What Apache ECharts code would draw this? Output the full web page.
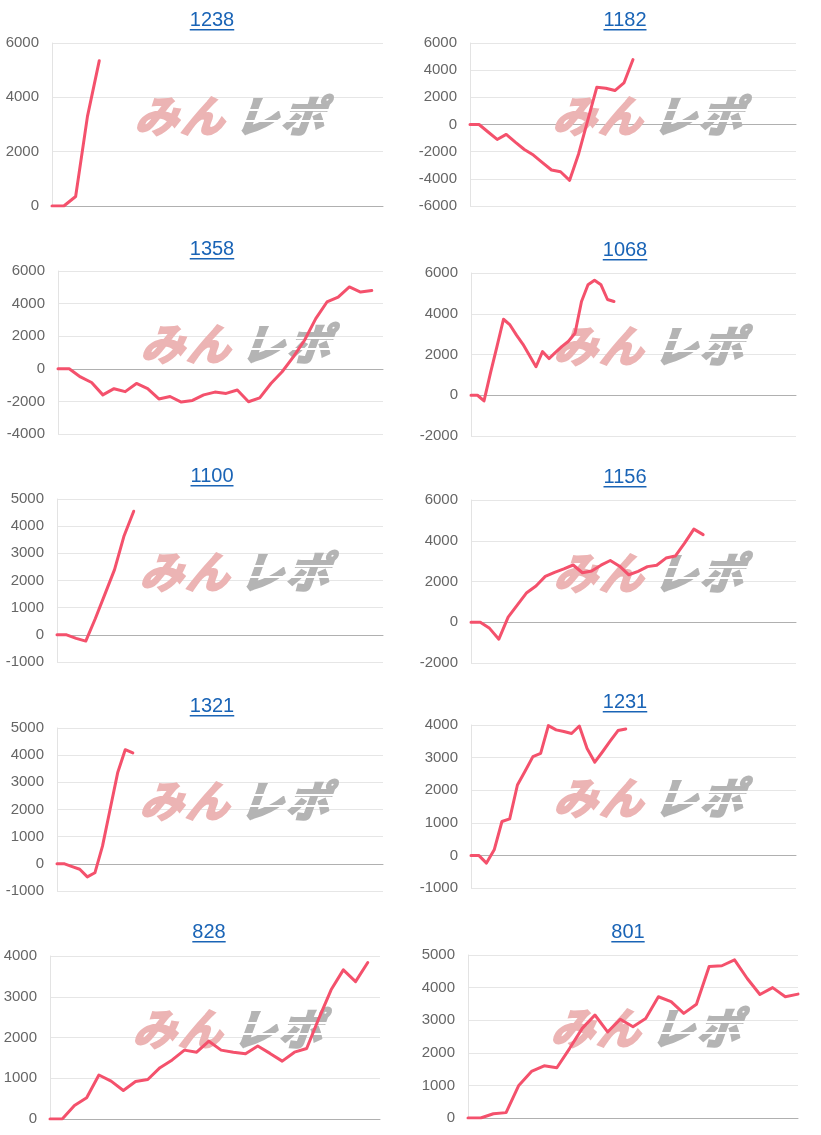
<!DOCTYPE html>
<html>
<head>
<meta charset="utf-8">
<script src="https://cdn.jsdelivr.net/npm/echarts@6/dist/echarts.min.js"></script>
<style>
html,body{margin:0;padding:0;background:#fff;}
#c{width:821px;height:1135px;}
</style>
</head>
<body>
<div id="c"></div>
<script>
// ---- data ----
const titles = ['1238','1182','1358','1068','1100','1156','1321','1231','828','801'];
const catCounts = [29,37,30,51,35,36,44,43,28,27];
const yMin = [0,-6000,-4000,-2000,-1000,-2000,-1000,-1000,0,0];
const yMax = [6000,6000,6000,6000,5000,6000,5000,4000,4000,5000];
const yStep = [2000,2000,2000,2000,1000,2000,1000,1000,1000,1000];

const d1238 = [0,0,350,3300,5350];
const d1182 = [0,0,-550,-1100,-730,-1300,-1840,-2250,-2800,-3350,-3480,-4110,-2150,300,2740,2670,2500,3060,4780];
const d1358 = [0,0,-500,-840,-1600,-1220,-1400,-900,-1220,-1850,-1700,-2040,-1940,-1600,-1430,-1510,-1300,-2020,-1780,-900,-180,730,1750,3080,4100,4400,5020,4710,4810];
const d1068 = [0,0,-280,1100,2400,3730,3450,2950,2500,1950,1400,2140,1800,2100,2400,2650,3040,4600,5420,5640,5420,4700,4600];
const d1100 = [0,0,-130,-230,600,1500,2400,3650,4550];
const d1156 = [0,0,-300,-830,250,850,1450,1780,2250,2450,2620,2810,2430,2520,2800,3030,2750,2330,2500,2730,2800,3150,3250,3880,4570,4300];
const d1321 = [0,0,-100,-200,-480,-330,650,2000,3350,4200,4080];
const d1231 = [0,0,-235,170,1040,1120,2160,2590,3030,3130,3980,3850,3800,3740,3970,3280,2860,3180,3510,3830,3880];
const d828 = [0,0,330,520,1080,930,700,920,970,1260,1450,1690,1640,1910,1690,1640,1600,1790,1610,1420,1640,1730,2470,3170,3660,3370,3840];
const d801 = [0,0,130,165,1000,1430,1600,1540,2130,2750,3160,2640,3030,2800,3050,3720,3570,3210,3490,4650,4670,4850,4280,3790,4000,3720,3800];
const seriesData = [d1238,d1182,d1358,d1068,d1100,d1156,d1321,d1231,d828,d801];

// ---- layout (positions only) ----
const grids = [[52,43,331,163],[470,43,326,163],[58,271,325,163],[471,273,325,163],[57,499,326,163],[471,500,325,163],[57,728,326,163],[471,725,325,163],[50,956,330,163],[468,955,330,163]];
const titlePos = [[212,20],[625,20],[212,249],[625,250],[212,476],[625,477],[212,706],[625,702],[209,932],[628,932]];

const chart = echarts.init(document.getElementById('c'), null, {renderer:'canvas'});
const FONT = '"Liberation Sans", Arial, sans-serif';
const mc = document.createElement('canvas').getContext('2d');
mc.font = '20px "Liberation Sans"';

const grid=[], xAxis=[], yAxis=[], series=[], graphic=[];
titles.forEach((t,i)=>{
  const g = grids[i];
  grid.push({left:g[0], top:g[1], width:g[2], height:g[3], containLabel:false});
  const cats = [];
  for(let k=1;k<=catCounts[i];k++) cats.push(String(k));
  xAxis.push({type:'category', gridIndex:i, data:cats, boundaryGap:false,
    axisLine:{show:true, onZero:true, lineStyle:{color:'#b0b0b0', width:1}},
    axisTick:{show:false}, axisLabel:{show:false}, splitLine:{show:false}});
  yAxis.push({type:'value', gridIndex:i, min:yMin[i], max:yMax[i], interval:yStep[i],
    axisLine:{show:true, lineStyle:{color:'#e3e3e3'}}, axisTick:{show:false},
    axisLabel:{color:'#666', fontSize:15, fontFamily:FONT, margin:13, formatter:(v)=>String(v)},
    splitLine:{lineStyle:{color:'#e6e6e6'}}});
  series.push({type:'line', xAxisIndex:i, yAxisIndex:i, data:seriesData[i], showSymbol:false, symbol:'none',
    lineStyle:{color:'#f4516c', width:3, join:'round', cap:'round'}, z:5, animation:false});
  // title
  const tp = titlePos[i];
  const w = mc.measureText(t).width;
  graphic.push({type:'text', x:tp[0], y:tp[1], z:10, style:{text:t, fill:'#1a64b6', font:'20px '+FONT, align:'center', verticalAlign:'middle'}});
  graphic.push({type:'rect', shape:{x:tp[0]-w/2, y:tp[1]+9, width:w, height:1.5}, style:{fill:'#1a64b6'}, z:10});
  // watermark logo
  const lx = g[0]+80, ly = g[1]+53;
  const chars = [['み',0,'#ecb4b4'],['ん',46,'#ecb4b4'],['レ',100,'#b4b4b4'],['ポ',146,'#b4b4b4']];
  chars.forEach(c=>{
    graphic.push({type:'text', x:lx+c[1], y:ly+41, z:1, silent:true, skewX:-0.35,
      style:{text:c[0], fill:c[2], font:'bold 43px "Noto Sans CJK JP"', align:'left', verticalAlign:'bottom',
        stroke:c[2], lineWidth:2.5}});
  });
  [[13],[24]].forEach(r=>{
    graphic.push({type:'rect', z:2, silent:true, shape:{x:lx+96, y:ly+r[0], width:110, height:2}, style:{fill:'#ffffff'}});
  });
});

chart.setOption({animation:false, backgroundColor:'#fff', grid, xAxis, yAxis, series, graphic});
</script>
</body>
</html>
